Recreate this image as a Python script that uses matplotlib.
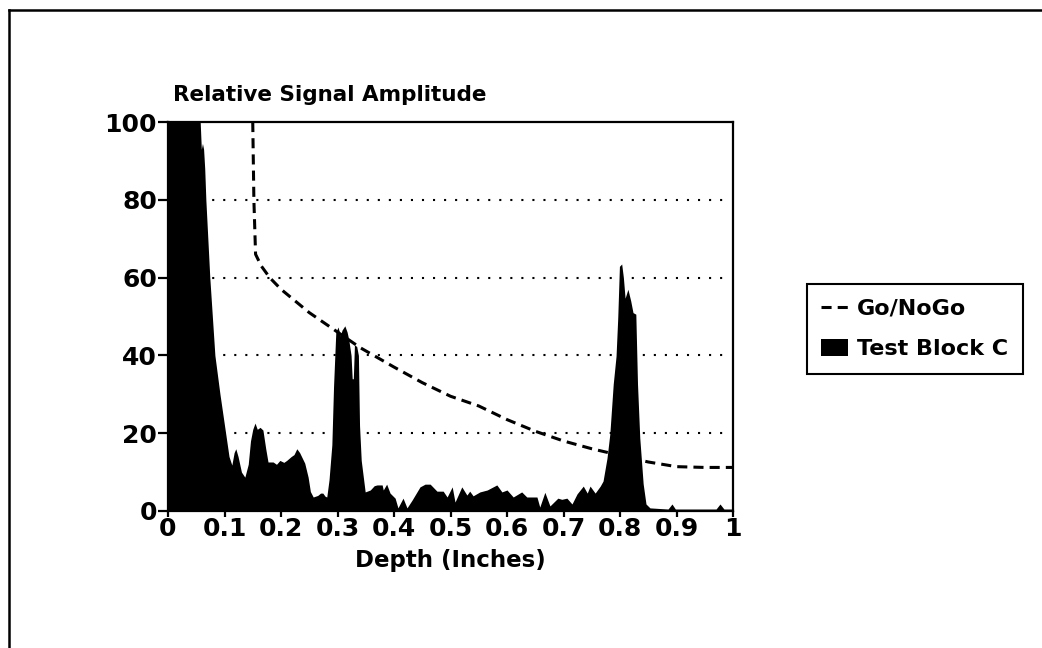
import matplotlib
matplotlib.use("Agg")
import matplotlib.pyplot as plt
from matplotlib.lines import Line2D

plt.rcParams['font.family'] = ['DejaVu Sans']
plt.rcParams['font.weight'] = 'bold'

# measured amplitude, Test Block C
depth = [0.000, 0.057, 0.059, 0.061, 0.063, 0.065, 0.067, 0.074, 0.083, 0.092,
         0.102, 0.108, 0.113, 0.117, 0.120, 0.124, 0.130, 0.136, 0.142, 0.146,
         0.150, 0.154, 0.158, 0.163, 0.168, 0.173, 0.177, 0.186, 0.192, 0.198,
         0.205, 0.210, 0.218, 0.223, 0.228, 0.233, 0.238, 0.242, 0.248, 0.252,
         0.257, 0.265, 0.270, 0.274, 0.278, 0.281, 0.285, 0.290, 0.293, 0.297,
         0.301, 0.305, 0.308, 0.313, 0.317, 0.320, 0.324, 0.326, 0.328, 0.330,
         0.334, 0.337, 0.339, 0.342, 0.349, 0.358, 0.365, 0.370, 0.379, 0.381,
         0.387, 0.393, 0.402, 0.407, 0.416, 0.423, 0.432, 0.446, 0.455, 0.464,
         0.476, 0.487, 0.494, 0.503, 0.508, 0.520, 0.529, 0.534, 0.540, 0.552,
         0.565, 0.582, 0.591, 0.600, 0.611, 0.626, 0.635, 0.653, 0.658, 0.667,
         0.676, 0.690, 0.697, 0.706, 0.715, 0.724, 0.735, 0.742, 0.747, 0.756,
         0.765, 0.770, 0.777, 0.782, 0.788, 0.793, 0.796, 0.799, 0.803, 0.806,
         0.809, 0.814, 0.819, 0.823, 0.828, 0.831, 0.835, 0.841, 0.846, 0.853,
         0.885, 0.892, 0.898, 0.970, 0.977, 0.984, 1.000]
amplitude = [100.0, 100.0, 93.0, 94.5, 93.0, 88.0, 80.0, 60.0, 40.0, 30.0,
             20.0, 14.0, 11.8, 15.0, 16.0, 14.0, 10.0, 8.7, 12.0, 18.0,
             21.0, 22.6, 21.0, 21.5, 20.8, 16.0, 12.6, 12.6, 12.0, 13.0,
             12.5, 13.0, 14.0, 14.5, 16.0, 15.0, 13.5, 12.3, 8.7, 5.0,
             3.6, 4.0, 4.6, 4.6, 3.8, 3.6, 8.0, 17.0, 32.0, 46.0,
             47.3, 45.0, 46.5, 47.6, 46.0, 44.0, 40.0, 34.0, 34.0, 42.7,
             42.3, 40.0, 22.0, 13.0, 4.9, 5.4, 6.5, 6.7, 6.7, 5.4,
             6.9, 4.6, 3.3, 0.8, 3.3, 0.8, 2.8, 6.2, 6.9, 6.9,
             5.1, 5.1, 3.6, 6.2, 2.3, 6.2, 4.1, 5.1, 3.9, 4.9,
             5.4, 6.7, 4.9, 5.4, 3.6, 4.9, 3.6, 3.6, 1.0, 4.8,
             1.3, 3.3, 3.0, 3.3, 1.8, 4.4, 6.4, 4.6, 6.4, 4.6,
             6.4, 7.7, 13.6, 19.8, 32.6, 39.8, 49.6, 62.9, 63.5, 60.0,
             54.7, 57.0, 54.0, 51.0, 50.6, 32.6, 18.8, 7.0, 1.8, 0.8,
             0.5, 1.8, 0.5, 0.5, 1.8, 0.5, 0.5]

# go/no-go threshold curve
limit_depth = [0.150, 0.152, 0.155, 0.165, 0.180, 0.200, 0.250, 0.290, 0.340,
               0.400, 0.450, 0.500, 0.550, 0.600, 0.650, 0.700, 0.750, 0.800,
               0.850, 0.900, 0.950, 1.000]
limit_amp = [100.0, 80.0, 66.0, 63.0, 60.0, 57.0, 51.0, 47.0, 42.0,
             37.0, 33.0, 29.5, 27.0, 23.5, 20.5, 18.0, 16.0, 14.3,
             12.6, 11.4, 11.2, 11.2]

x_ticks = [0, 0.1, 0.2, 0.3, 0.4, 0.5, 0.6, 0.7, 0.8, 0.9, 1]
x_tick_labels = ['0', '0.1', '0.2', '0.3', '0.4', '0.5', '0.6', '0.7', '0.8', '0.9', '1']
y_ticks = [0, 20, 40, 60, 80, 100]

fig = plt.figure(figsize=(10.42, 6.48), dpi=100)
ax = fig.add_axes([168 / 1042, 1 - 511 / 648, 565 / 1042, 389 / 648])

for yv in y_ticks[1:-1]:
    ax.axhline(yv, xmax=0.985, color='black', lw=1.5, ls=(0, (1, 4.3)), zorder=1)

ax.fill_between(depth, amplitude, 0, color='black', lw=0, zorder=2,
                label='Test Block C')
ax.plot(limit_depth, limit_amp, color='black', lw=2.2, ls=(0, (3.3, 2.0)),
        zorder=3, label='Go/NoGo')

ax.set_xlim(0, 1)
ax.set_ylim(0, 100)
ax.set_xticks(x_ticks)
ax.set_xticklabels(x_tick_labels)
ax.set_yticks(y_ticks)
ax.tick_params(direction='out', width=1.6, labelsize=18)
ax.tick_params(axis='y', length=7, pad=1)
ax.tick_params(axis='x', length=4, pad=0)
for s in ax.spines.values():
    s.set_linewidth(1.6)

ax.set_xlabel('Depth (Inches)', fontsize=16.5, fontweight='bold', labelpad=6)
fig.text(173 / 1042, 1 - 95 / 648, 'Relative Signal Amplitude', fontsize=15.5,
         ha='left', va='center')

h, l = ax.get_legend_handles_labels()
leg = ax.legend(h[::-1], l[::-1], loc='center left',
                bbox_to_anchor=(807 / 1042, 1 - 329 / 648),
                bbox_transform=fig.transFigure, fontsize=16, frameon=True,
                fancybox=False, edgecolor='black', framealpha=1,
                handlelength=1.2, handleheight=0.8, handletextpad=0.4,
                borderpad=0.65, labelspacing=0.9, borderaxespad=0)
leg.get_frame().set_linewidth(1.5)

# page border, top and left edges only
fig.add_artist(Line2D([9 / 1042, 1.0], [1 - 10 / 648, 1 - 10 / 648],
                      color='black', lw=1.8, transform=fig.transFigure))
fig.add_artist(Line2D([9 / 1042, 9 / 1042], [0.0, 1 - 10 / 648],
                      color='black', lw=1.8, transform=fig.transFigure))

fig.savefig('out.png', dpi=100)
